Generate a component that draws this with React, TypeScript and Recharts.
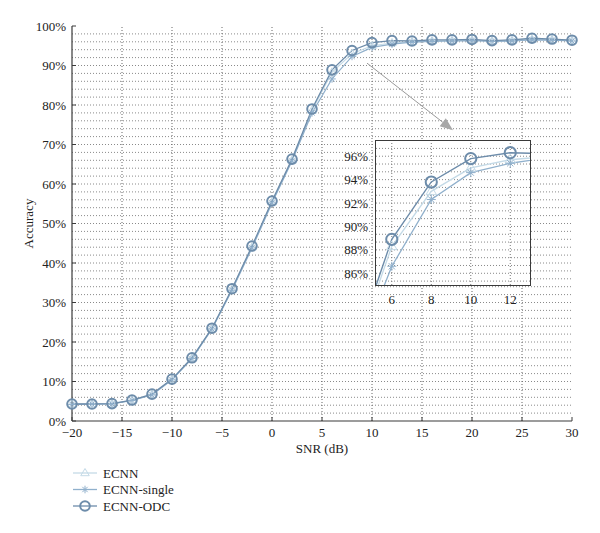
import React from "react"
import { LineChart, Line, XAxis, YAxis, ReferenceLine, Label } from "recharts"

const SNR = [-20, -18, -16, -14, -12, -10, -8, -6, -4, -2, 0, 2, 4, 6, 8, 10, 12, 14, 16, 18, 20, 22, 24, 26, 28, 30]
const ECNN = [4.2, 4.3, 4.4, 5.2, 6.7, 10.5, 15.9, 23.4, 33.3, 44.0, 55.4, 66.0, 78.6, 88.3, 93.0, 95.0, 95.7, 96.0, 96.2, 96.3, 96.4, 96.2, 96.3, 96.6, 96.5, 96.3]
const ECNN_SINGLE = [4.2, 4.3, 4.3, 5.2, 6.6, 10.4, 15.8, 23.3, 33.1, 43.8, 55.2, 65.8, 78.0, 86.6, 92.3, 94.6, 95.4, 95.9, 96.1, 96.2, 96.3, 96.1, 96.2, 96.5, 96.4, 96.2]
const ECNN_ODC = [4.3, 4.3, 4.4, 5.3, 6.8, 10.6, 16.0, 23.5, 33.5, 44.3, 55.7, 66.3, 79.0, 88.9, 93.8, 95.8, 96.3, 96.2, 96.5, 96.5, 96.6, 96.3, 96.5, 96.9, 96.7, 96.4]

const X_TICKS = [-20, -15, -10, -5, 0, 5, 10, 15, 20, 25, 30]
const Y_TICKS = [0, 10, 20, 30, 40, 50, 60, 70, 80, 90, 100]
const INSET_X_TICKS = [6, 8, 10, 12]
const INSET_Y_TICKS = [86, 88, 90, 92, 94, 96]

const FONT = "'Liberation Serif', 'DejaVu Serif', serif"
const FRAME = "#3a3a3a"
const C_ECNN = "#c4dae7"
const C_SINGLE = "#90b0cc"
const C_ODC = "#6d8caa"

const data = SNR.map((snr, i) => ({ snr, ecnn: ECNN[i], single: ECNN_SINGLE[i], odc: ECNN_ODC[i] }))
const insetData = data.filter((d) => d.snr >= 4 && d.snr <= 14)

// minor gridlines (every 2% on main, every 2/3% on inset)
const mainHGrid: number[] = []
for (let v = 2; v < 100; v += 2) mainHGrid.push(v)
const mainVGrid = X_TICKS.slice(1, -1)
const insetHGrid: number[] = []
for (let v = 86 - 2 / 3; v < 97; v += 2 / 3) insetHGrid.push(Math.round(v * 1000) / 1000)

const fmtX = (v: number) => (v < 0 ? `\u2212${-v}` : `${v}`)

const Circle = ({ cx, cy, r = 4.8 }: any) => (
  <circle cx={cx} cy={cy} r={r} stroke={C_ODC} strokeWidth={2} fill="none" />
)
const Star = ({ cx, cy, r = 3.8 }: any) => {
  const d = r * 0.7
  return (
    <g stroke={C_SINGLE} strokeWidth={1}>
      <line x1={cx - r} x2={cx + r} y1={cy} y2={cy} />
      <line x1={cx} x2={cx} y1={cy - r} y2={cy + r} />
      <line x1={cx - d} x2={cx + d} y1={cy - d} y2={cy + d} />
      <line x1={cx - d} x2={cx + d} y1={cy + d} y2={cy - d} />
    </g>
  )
}
const Tri = ({ cx, cy, r = 4.5 }: any) => (
  <polygon
    points={`${cx},${cy - r} ${cx - r * 0.95},${cy + r * 0.6} ${cx + r * 0.95},${cy + r * 0.6}`}
    stroke={C_ECNN}
    strokeWidth={1}
    fill="none"
  />
)

const dotFn = (Comp: any, tag: string, r?: number) => (p: any) => {
  if (p.cx == null || p.cy == null) return <g key={`${tag}-${p.index}`} />
  return <Comp key={`${tag}-${p.index}`} cx={p.cx} cy={p.cy} r={r} />
}

const BottomTick = ({ x, y, payload }: any) => (
  <g>
    <line x1={x} x2={x} y1={y - 7} y2={y - 11} stroke={FRAME} />
    <text x={x} y={y} dy="0.71em" textAnchor="middle" fontSize={13} fontFamily={FONT} fill="#222">
      {fmtX(payload.value)}
    </text>
  </g>
)
const LeftTick = ({ x, y, payload }: any) => (
  <g>
    <line x1={x + 6} x2={x + 10} y1={y} y2={y} stroke={FRAME} />
    <text x={x} y={y} dy="0.35em" textAnchor="end" fontSize={13} fontFamily={FONT} fill="#222">
      {`${payload.value}%`}
    </text>
  </g>
)
const TopTick = ({ x, y }: any) => <line x1={x} x2={x} y1={y} y2={y + 4} stroke={FRAME} />
const RightTick = ({ x, y }: any) => <line x1={x} x2={x - 4} y1={y} y2={y} stroke={FRAME} />

const Arrow = (p: any) => {
  const { x1, y1, x2, y2 } = p
  const ang = Math.atan2(y2 - y1, x2 - x1)
  const L = 13
  const W = 5
  const bx = x2 - L * Math.cos(ang)
  const by = y2 - L * Math.sin(ang)
  const px = -Math.sin(ang) * W
  const py = Math.cos(ang) * W
  return (
    <g>
      <line x1={x1} y1={y1} x2={bx} y2={by} stroke="#9a9a9a" strokeWidth={1} />
      <polygon points={`${x2},${y2} ${bx + px},${by + py} ${bx - px},${by - py}`} fill="#a8a8a8" />
    </g>
  )
}

const SERIES = [
  { key: "ecnn", name: "ECNN", color: C_ECNN, marker: Tri },
  { key: "single", name: "ECNN-single", color: C_SINGLE, marker: Star },
  { key: "odc", name: "ECNN-ODC", color: C_ODC, marker: Circle },
]

function Inset() {
  return (
    <div style={{ position: "absolute", left: 336, top: 131, zIndex: 3 }}>
      {/* white backing for the inset plot area */}
      <div style={{ position: "absolute", left: 40, top: 10, width: 154, height: 144, background: "#fff" }} />
      <div style={{ position: "relative" }}>
        <LineChart width={200} height={180} data={insetData} margin={{ top: 10, right: 6, bottom: 6, left: 0 }}>
          {insetHGrid.map((v) => (
            <ReferenceLine key={`ih${v}`} y={v} stroke="#888" strokeDasharray="1 2" />
          ))}
          {INSET_X_TICKS.map((v) => (
            <ReferenceLine key={`iv${v}`} x={v} stroke="#777" strokeDasharray="1 2" />
          ))}
          <XAxis
            dataKey="snr"
            type="number"
            domain={[5.2, 13]}
            allowDataOverflow
            ticks={INSET_X_TICKS}
            tickLine={false}
            tickMargin={4}
            height={20}
            tick={{ fontSize: 13, fontFamily: FONT, fill: "#222" }}
            axisLine={false}
          />
          <YAxis
            domain={[85, 97.3]}
            allowDataOverflow
            ticks={INSET_Y_TICKS}
            tickLine={false}
            tickMargin={2}
            width={40}
            tickFormatter={(v: number) => `${v}%`}
            tick={{ fontSize: 13, fontFamily: FONT, fill: "#222" }}
            axisLine={false}
          />
          <Line dataKey="ecnn" stroke={C_ECNN} strokeWidth={1.3} dot={dotFn(Tri, "it", 5.5)} isAnimationActive={false} />
          <Line dataKey="single" stroke={C_SINGLE} strokeWidth={1.3} dot={dotFn(Star, "is", 4.5)} isAnimationActive={false} />
          <Line dataKey="odc" stroke={C_ODC} strokeWidth={1.4} dot={dotFn(Circle, "ic", 5.6)} isAnimationActive={false} />
        </LineChart>
      </div>
      {/* inset frame */}
      <div
        style={{
          position: "absolute",
          left: 39,
          top: 9,
          width: 154,
          height: 144,
          border: `1.3px solid ${FRAME}`,
          pointerEvents: "none",
        }}
      />
    </div>
  )
}

export default function App() {
  return (
    <div style={{ position: "absolute", left: 0, top: 0, width: 600, height: 533, background: "#fff" }}>
      <Inset />
      <div style={{ position: "absolute", left: 0, top: 0, zIndex: 1 }}>
        <LineChart width={600} height={533} data={data} margin={{ top: 26, right: 28, bottom: 82, left: 12 }}>
          {mainHGrid.map((v) => (
            <ReferenceLine key={`h${v}`} y={v} stroke="#8a8a8a" strokeDasharray="1 2" />
          ))}
          {mainVGrid.map((v) => (
            <ReferenceLine key={`v${v}`} x={v} stroke="#666" strokeDasharray="1 2" />
          ))}
          <XAxis
            dataKey="snr"
            type="number"
            domain={[-20, 30]}
            ticks={X_TICKS}
            tickSize={0}
            tickMargin={7}
            height={30}
            tick={<BottomTick />}
            axisLine={{ stroke: FRAME, strokeWidth: 1.2 }}
          >
            <Label
              content={({ viewBox }: any) => (
                <text
                  x={viewBox.x + viewBox.width / 2}
                  y={viewBox.y + 32}
                  textAnchor="middle"
                  fontSize={13}
                  fontFamily={FONT}
                  fill="#222"
                >
                  SNR (dB)
                </text>
              )}
            />
          </XAxis>
          <XAxis
            xAxisId="top"
            orientation="top"
            dataKey="snr"
            type="number"
            domain={[-20, 30]}
            ticks={X_TICKS}
            tickSize={0}
            height={0}
            tick={<TopTick />}
            axisLine={{ stroke: FRAME, strokeWidth: 1.2 }}
          />
          <YAxis
            domain={[0, 100]}
            ticks={Y_TICKS}
            tickSize={0}
            tickMargin={6}
            width={60}
            tick={<LeftTick />}
            axisLine={{ stroke: FRAME, strokeWidth: 1.2 }}
          >
            <Label
              content={({ viewBox }: any) => {
                const cx = viewBox.x + 16
                const cy = viewBox.y + viewBox.height / 2
                return (
                  <text
                    x={cx}
                    y={cy}
                    transform={`rotate(-90, ${cx}, ${cy})`}
                    textAnchor="middle"
                    dominantBaseline="central"
                    fontSize={13}
                    fontFamily={FONT}
                    fill="#222"
                  >
                    Accuracy
                  </text>
                )
              }}
            />
          </YAxis>
          <YAxis
            yAxisId="right"
            orientation="right"
            domain={[0, 100]}
            ticks={Y_TICKS}
            tickSize={0}
            width={0}
            tick={<RightTick />}
            axisLine={{ stroke: FRAME, strokeWidth: 1.2 }}
          />
          <ReferenceLine
            segment={[
              { x: 9.5, y: 90.6 },
              { x: 18.1, y: 73.6 },
            ]}
            shape={Arrow}
          />
          <Line dataKey="ecnn" stroke={C_ECNN} strokeWidth={1.2} dot={dotFn(Tri, "t")} isAnimationActive={false} />
          <Line dataKey="single" stroke={C_SINGLE} strokeWidth={1.2} dot={dotFn(Star, "s")} isAnimationActive={false} />
          <Line dataKey="odc" stroke={C_ODC} strokeWidth={1.3} dot={dotFn(Circle, "c")} isAnimationActive={false} />
        </LineChart>
      </div>

      {/* legend */}
      <svg style={{ position: "absolute", left: 70, top: 464, zIndex: 2 }} width={160} height={52}>
        {SERIES.map((s, i) => {
          const cy = 9 + i * 16.5
          const M = s.marker
          return (
            <g key={s.key}>
              <line x1={3} x2={27} y1={cy} y2={cy} stroke={s.color} strokeWidth={1.3} />
              <M cx={15} cy={cy} />
              <text x={33} y={cy} dy="0.35em" fontSize={13} fontFamily={FONT} fill="#222">
                {s.name}
              </text>
            </g>
          )
        })}
      </svg>
    </div>
  )
}
